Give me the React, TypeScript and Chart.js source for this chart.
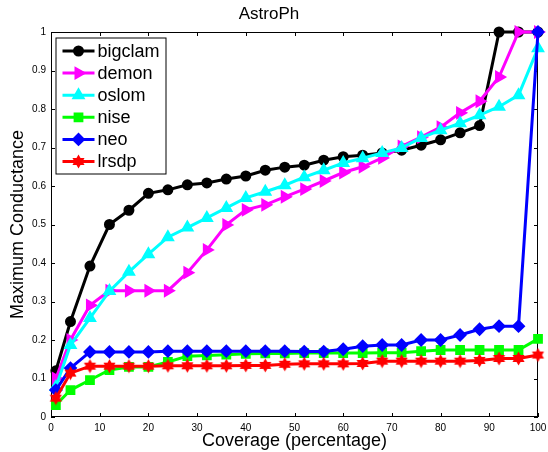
import React, { useEffect, useRef } from 'react';
import { Chart, registerables } from 'chart.js';
import { drawPoint } from 'chart.js/helpers';

Chart.register(...registerables);

// ---- data ----
const coverage = [1, 4, 8, 12, 16, 20, 24, 28, 32, 36, 40, 44, 48, 52, 56, 60, 64, 68, 72, 76, 80, 84, 88, 92, 96, 100];
const bigclam = [0.12, 0.248, 0.392, 0.5, 0.537, 0.581, 0.59, 0.603, 0.608, 0.618, 0.626, 0.641, 0.649, 0.654, 0.667, 0.676, 0.68, 0.686, 0.693, 0.706, 0.72, 0.738, 0.757, 1.0, 1.0, 1.0];
const demon = [0.1, 0.2, 0.29, 0.328, 0.328, 0.328, 0.328, 0.375, 0.434, 0.499, 0.538, 0.551, 0.572, 0.592, 0.613, 0.635, 0.65, 0.673, 0.703, 0.727, 0.753, 0.79, 0.82, 0.883, 1.0, 1.0];
const oslom = [0.078, 0.187, 0.257, 0.327, 0.377, 0.423, 0.467, 0.492, 0.517, 0.543, 0.569, 0.585, 0.602, 0.623, 0.641, 0.66, 0.672, 0.686, 0.699, 0.725, 0.745, 0.763, 0.784, 0.806, 0.836, 0.958];
const nise = [0.031, 0.07, 0.096, 0.122, 0.13, 0.13, 0.143, 0.158, 0.16, 0.162, 0.164, 0.165, 0.165, 0.166, 0.166, 0.166, 0.166, 0.167, 0.167, 0.171, 0.174, 0.174, 0.174, 0.174, 0.174, 0.203];
const neo = [0.07, 0.127, 0.169, 0.169, 0.169, 0.169, 0.171, 0.171, 0.171, 0.171, 0.171, 0.171, 0.171, 0.17, 0.17, 0.176, 0.184, 0.187, 0.187, 0.2, 0.2, 0.213, 0.228, 0.236, 0.236, 1.0];
const lrsdp = [0.049, 0.114, 0.132, 0.132, 0.132, 0.132, 0.133, 0.133, 0.133, 0.133, 0.134, 0.134, 0.137, 0.138, 0.138, 0.138, 0.139, 0.145, 0.145, 0.145, 0.145, 0.145, 0.147, 0.152, 0.152, 0.161];

const seriesNames = ['bigclam', 'demon', 'oslom', 'nise', 'neo', 'lrsdp'];
const seriesValues = [bigclam, demon, oslom, nise, neo, lrsdp];

const titleText = 'AstroPh';
const xTitle = 'Coverage (percentage)';
const yTitle = 'Maximum Conductance';

// ---- styles ----
const FONT = '"Liberation Sans", Arial, Helvetica, sans-serif';
const colors = ['#000000', '#ff00ff', '#00ffff', '#00ff00', '#0000ff', '#ff0000'];

function makeHexagram(color: string, size: number) {
  const c = document.createElement('canvas');
  c.width = size;
  c.height = size;
  const ctx = c.getContext('2d')!;
  const cx = size / 2, cy = size / 2;
  const R = size / 2 - 0.5;
  const r = R / Math.sqrt(3);
  ctx.beginPath();
  for (let i = 0; i < 12; i++) {
    const a = -Math.PI / 2 + (i * Math.PI) / 6;
    const rr = i % 2 === 0 ? R : r;
    const px = cx + rr * Math.cos(a);
    const py = cy + rr * Math.sin(a);
    if (i === 0) ctx.moveTo(px, py); else ctx.lineTo(px, py);
  }
  ctx.closePath();
  ctx.fillStyle = color;
  ctx.fill();
  return c;
}

function markerStyles() {
  return [
    { pointStyle: 'circle', radius: 4.5, rotation: 0 },
    { pointStyle: 'triangle', radius: 6, rotation: 90 },
    { pointStyle: 'triangle', radius: 6, rotation: 0 },
    { pointStyle: 'rect', radius: 5.5, rotation: 0 },
    { pointStyle: 'rectRot', radius: 5.5, rotation: 0 },
    { pointStyle: makeHexagram('#ff0000', 15), radius: 7, rotation: 0 },
  ];
}

const framePlugin = {
  id: 'matlabFrame',
  beforeDatasetsDraw(chart: any) {
    const { ctx, chartArea } = chart;
    const { left, right, top, bottom } = chartArea;
    const tl = 4;
    ctx.save();
    ctx.strokeStyle = '#000';
    ctx.lineWidth = 1;
    ctx.strokeRect(left + 0.5, top + 0.5, right - left - 1, bottom - top - 1);
    ctx.beginPath();
    const xs = chart.scales.x;
    xs.ticks.forEach((_t: any, i: number) => {
      const px = Math.round(xs.getPixelForTick(i)) + 0.5;
      ctx.moveTo(px, bottom);
      ctx.lineTo(px, bottom - tl);
      ctx.moveTo(px, top);
      ctx.lineTo(px, top + tl);
    });
    const ys = chart.scales.y;
    ys.ticks.forEach((_t: any, i: number) => {
      const py = Math.round(ys.getPixelForTick(i)) + 0.5;
      ctx.moveTo(left, py);
      ctx.lineTo(left + tl, py);
      ctx.moveTo(right, py);
      ctx.lineTo(right - tl, py);
    });
    ctx.stroke();
    ctx.restore();
  },
};

const legendPlugin = {
  id: 'matlabLegend',
  afterDraw(chart: any) {
    const { ctx, chartArea } = chart;
    const bx = chartArea.left + 4.5;
    const by = chartArea.top + 5.5;
    const bw = 110;
    const bh = 136;
    const styles = markerStyles();
    ctx.save();
    ctx.fillStyle = '#fff';
    ctx.fillRect(bx, by, bw, bh);
    ctx.strokeStyle = '#000';
    ctx.lineWidth = 1;
    ctx.strokeRect(bx + 0.5, by + 0.5, bw, bh);
    chart.data.datasets.forEach((ds: any, i: number) => {
      const y = by + 13.5 + i * 22.1;
      ctx.strokeStyle = ds.borderColor;
      ctx.lineWidth = 3;
      ctx.beginPath();
      ctx.moveTo(bx + 7, y);
      ctx.lineTo(bx + 39, y);
      ctx.stroke();
      ctx.fillStyle = ds.borderColor;
      ctx.strokeStyle = ds.borderColor;
      ctx.lineWidth = 2;
      const s = styles[i];
      drawPoint(ctx, { pointStyle: s.pointStyle, rotation: s.rotation, radius: s.radius, borderWidth: 2 }, bx + 23, y);
      ctx.fillStyle = '#000';
      ctx.font = `18px ${FONT}`;
      ctx.textBaseline = 'middle';
      ctx.textAlign = 'left';
      ctx.fillText(ds.label, bx + 42, y + 1);
    });
    ctx.restore();
  },
};

export default function App() {
  const ref = useRef<HTMLCanvasElement | null>(null);

  useEffect(() => {
    document.body.style.margin = '0';
    const canvas = ref.current!;
    const styles = markerStyles();
    const datasets = seriesNames.map((name, i) => ({
      label: name,
      data: coverage.map((x, j) => ({ x, y: seriesValues[i][j] })),
      borderColor: colors[i],
      backgroundColor: colors[i],
      pointBackgroundColor: colors[i],
      pointBorderColor: colors[i],
      borderWidth: 3,
      pointBorderWidth: 2,
      pointStyle: styles[i].pointStyle as any,
      pointRotation: styles[i].rotation,
      pointRadius: styles[i].radius,
      tension: 0,
      clip: false as any,
      order: seriesNames.length - i,
    }));

    const chart = new Chart(canvas, {
      type: 'line',
      data: { datasets },
      options: {
        animation: false,
        responsive: false,
        maintainAspectRatio: false,
        layout: { padding: { left: 0, right: 10, top: 0, bottom: 0 } },
        plugins: {
          legend: { display: false },
          tooltip: { enabled: false },
          title: {
            display: true,
            text: titleText,
            color: '#000',
            font: { family: FONT, size: 17, weight: 'normal' },
            padding: { top: 4, bottom: 7.6 },
          },
        },
        scales: {
          x: {
            type: 'linear',
            min: 0,
            max: 100,
            grid: { display: false, drawTicks: false },
            border: { display: false },
            ticks: { stepSize: 10, color: '#000', padding: 5, font: { family: FONT, size: 10 }, maxRotation: 0 },
            title: {
              display: true,
              text: xTitle,
              color: '#000',
              font: { family: FONT, size: 18 },
              padding: { top: 0, bottom: 0 },
            },
            afterFit: (scale: any) => {
              scale.height = 35;
              scale.paddingRight = 0;
              scale.paddingLeft = 0;
            },
          },
          y: {
            type: 'linear',
            min: 0,
            max: 1,
            grid: { display: false, drawTicks: false },
            border: { display: false },
            ticks: {
              stepSize: 0.1,
              color: '#000',
              padding: 5,
              font: { family: FONT, size: 10 },
              callback: (v: any) => String(Math.round(Number(v) * 10) / 10),
            },
            title: {
              display: true,
              text: yTitle,
              color: '#000',
              font: { family: FONT, size: 18 },
              padding: { top: 7, bottom: 0 },
            },
            afterFit: (scale: any) => {
              scale.width = 51;
              scale.paddingTop = 0;
              scale.paddingBottom = 0;
            },
          },
        },
      },
      plugins: [framePlugin, legendPlugin],
    });
    return () => chart.destroy();
  }, []);

  return (
    <div style={{ width: 548, height: 452 }}>
      <canvas ref={ref} width={548} height={452} style={{ display: 'block' }} />
    </div>
  );
}
